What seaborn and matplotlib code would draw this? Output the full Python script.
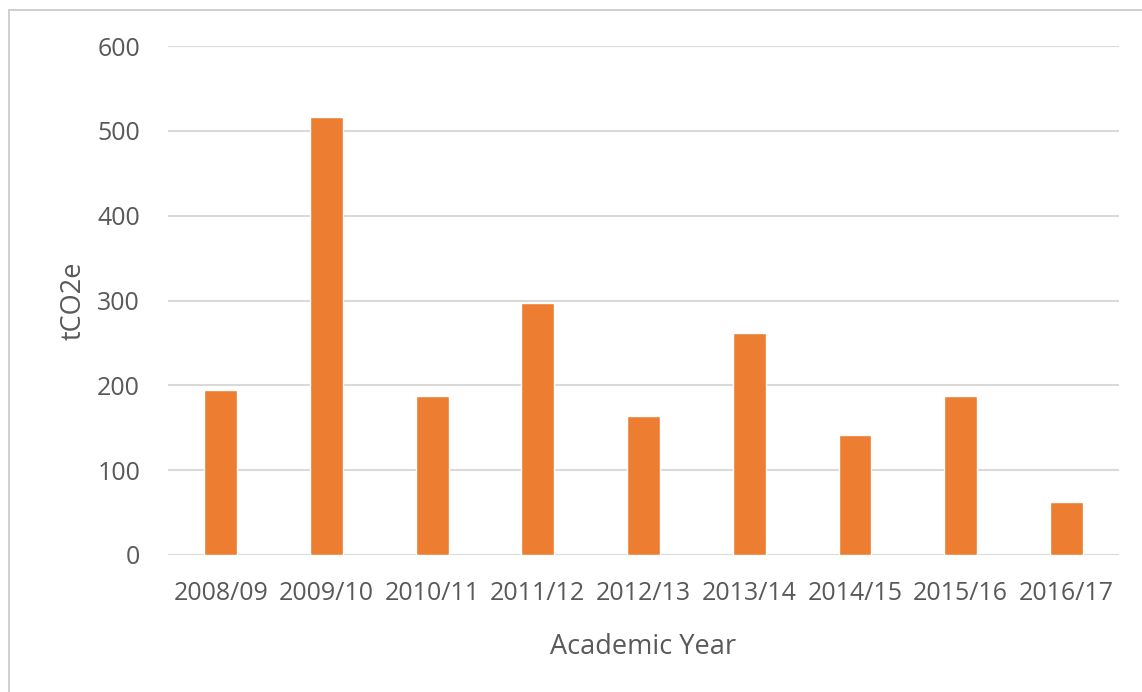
import matplotlib
matplotlib.use("Agg")
import matplotlib.pyplot as plt
import seaborn as sns
import pandas as pd
from matplotlib.lines import Line2D

years = ["2008/09", "2009/10", "2010/11", "2011/12", "2012/13",
         "2013/14", "2014/15", "2015/16", "2016/17"]
emissions = [194, 516, 187, 297, 164, 262, 141, 187, 63]
y_ticks = [0, 100, 200, 300, 400, 500, 600]

df = pd.DataFrame({"Academic Year": years, "tCO2e": emissions})

sns.set_theme(style="white")
plt.rcParams['font.family'] = ['Open Sans', 'DejaVu Sans']
text_color = "#595959"

fig = plt.figure(figsize=(11.42, 6.92), dpi=100)
ax = fig.add_axes([0.147, 0.198, 0.833, 0.7355])

sns.barplot(data=df, x="Academic Year", y="tCO2e", color="#ED7D31",
            saturation=1, width=0.31, ax=ax, zorder=3)

ax.set_ylim(0, 600)
ax.set_xlim(-0.5, len(years) - 0.5)
ax.set_yticks(y_ticks)
ax.yaxis.grid(True, color="#d9d9d9", linewidth=1.5, zorder=0)
ax.xaxis.grid(False)
for s in ["top", "right", "left", "bottom"]:
    ax.spines[s].set_visible(False)
ax.tick_params(axis="both", length=0, labelsize=18, labelcolor=text_color)
ax.tick_params(axis="y", pad=20)
ax.tick_params(axis="x", pad=19)
ax.set_xlabel("Academic Year", fontsize=19.5, color=text_color, labelpad=19)
ax.set_ylabel("tCO2e", fontsize=19.5, color=text_color, labelpad=7)

# chart border (left and top edges visible)
fig.add_artist(Line2D([9/1142, 9/1142], [0, 1 - 10/692], color="#c8c8c8",
                      linewidth=1.2, transform=fig.transFigure))
fig.add_artist(Line2D([9/1142, 1], [1 - 10/692, 1 - 10/692], color="#c8c8c8",
                      linewidth=1.2, transform=fig.transFigure))

fig.savefig("out.png", dpi=100, facecolor="white")
